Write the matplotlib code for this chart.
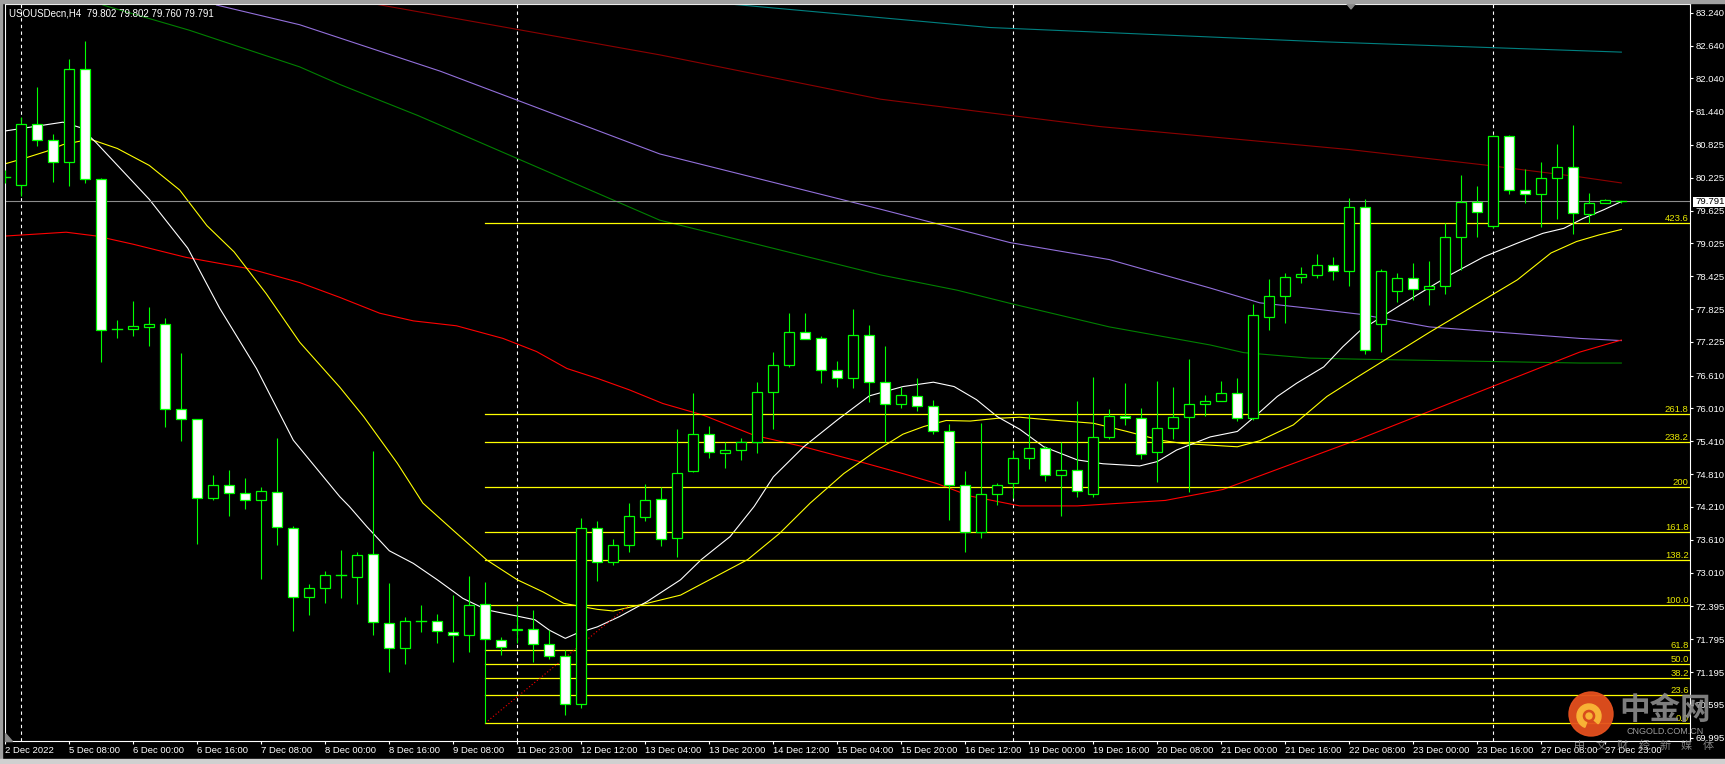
import matplotlib
matplotlib.use('Agg')
import matplotlib.pyplot as plt
from matplotlib.patches import Rectangle, Circle, Wedge, Polygon

plt.rcParams['font.family'] = ['Liberation Sans', 'DejaVu Sans']

W, H = 1725, 764

# H4 bars, oldest first
opens = [80.22, 80.09, 81.20, 80.91, 80.51, 82.22, 80.20, 77.45, 77.47, 77.49,
         77.56, 76.00, 75.82, 74.38, 74.61, 74.46, 74.33, 74.48, 73.82, 72.56,
         72.73, 72.96, 72.94, 73.35, 72.09, 71.63, 72.12, 72.12, 71.92, 71.87,
         72.43, 71.78, 71.96, 71.99, 71.70, 71.49, 70.62, 73.82, 73.20, 73.51,
         74.03, 74.35, 73.64, 74.86, 75.54, 75.19, 75.25, 75.39, 76.31, 76.80,
         77.41, 77.29, 76.71, 76.56, 77.35, 76.49, 76.10, 76.23, 76.05, 75.59,
         74.61, 73.75, 74.44, 74.64, 75.10, 75.28, 74.79, 74.88, 74.45, 75.48,
         75.87, 75.83, 75.21, 75.65, 75.85, 76.09, 76.14, 76.29, 75.83, 77.69,
         78.06, 78.41, 78.44, 78.64, 78.52, 79.69, 77.55, 78.15, 78.40, 78.20,
         78.25, 79.14, 79.78, 79.35, 80.98, 80.00, 79.92, 80.22, 80.42, 79.56,
         79.76, 79.802]
highs = [80.36, 81.34, 81.88, 81.02, 82.39, 82.73, 80.22, 77.62, 77.98, 77.87,
         77.66, 77.03, 75.82, 74.79, 74.89, 74.74, 74.57, 75.47, 73.86, 72.81,
         73.04, 73.43, 73.39, 75.23, 72.82, 72.20, 72.42, 72.26, 72.60, 72.95,
         72.84, 71.84, 72.42, 72.33, 71.96, 71.60, 74.00, 73.95, 73.62, 74.28,
         74.63, 74.57, 75.63, 76.29, 75.69, 75.39, 75.47, 76.49, 77.04, 77.75,
         77.75, 77.33, 76.87, 77.83, 77.54, 77.15, 76.40, 76.57, 76.17, 75.73,
         74.87, 75.74, 74.65, 75.25, 75.90, 75.32, 75.40, 76.15, 76.58, 76.00,
         76.47, 76.02, 76.51, 76.40, 76.91, 76.26, 76.51, 76.56, 77.92, 78.38,
         78.49, 78.59, 78.83, 78.77, 79.85, 79.83, 78.55, 78.49, 78.67, 78.70,
         79.40, 80.27, 80.07, 81.00, 81.01, 80.39, 80.51, 80.84, 81.19, 79.94,
         79.83, 79.802]
lows = [80.12, 79.90, 80.81, 80.15, 80.07, 80.13, 76.85, 77.29, 77.34, 77.15,
        75.68, 75.41, 73.54, 74.33, 74.05, 74.18, 72.90, 73.52, 71.95, 72.24,
        72.46, 72.54, 72.43, 71.88, 71.20, 71.35, 71.93, 71.73, 71.37, 71.57,
        70.26, 71.51, 71.72, 71.37, 71.44, 70.41, 70.53, 72.85, 73.15, 73.39,
        73.96, 73.50, 73.29, 74.85, 75.11, 74.93, 75.06, 75.20, 75.63, 76.77,
        77.27, 76.48, 76.41, 76.39, 76.12, 75.39, 76.01, 75.97, 75.55, 73.98,
        73.39, 73.65, 74.25, 74.37, 74.90, 74.69, 74.05, 74.40, 74.40, 75.45,
        75.71, 75.09, 74.67, 75.45, 74.48, 75.88, 76.14, 75.79, 75.80, 77.45,
        77.58, 78.31, 78.40, 78.36, 78.25, 77.00, 77.05, 77.95, 78.00, 77.90,
        78.10, 78.54, 79.15, 79.30, 79.93, 79.77, 79.33, 79.48, 79.19, 79.39,
        79.76, 79.760]
closes = [80.24, 81.20, 80.91, 80.51, 82.22, 80.20, 77.45, 77.46, 77.51, 77.56,
          76.00, 75.82, 74.37, 74.61, 74.46, 74.33, 74.50, 73.85, 72.57, 72.73,
          72.97, 72.97, 73.33, 72.10, 71.63, 72.12, 72.12, 71.94, 71.87, 72.42,
          71.79, 71.65, 71.99, 71.70, 71.48, 70.62, 73.82, 73.20, 73.51, 74.04,
          74.33, 73.62, 74.84, 75.54, 75.21, 75.25, 75.39, 76.31, 76.80, 77.40,
          77.27, 76.71, 76.56, 77.35, 76.49, 76.10, 76.25, 76.05, 75.59, 74.61,
          73.75, 74.44, 74.61, 75.10, 75.28, 74.79, 74.88, 74.50, 75.48, 75.87,
          75.83, 75.18, 75.65, 75.85, 76.09, 76.14, 76.29, 75.83, 77.71, 78.06,
          78.41, 78.46, 78.63, 78.53, 79.69, 77.08, 78.52, 78.40, 78.20, 78.25,
          79.14, 79.78, 79.59, 80.98, 80.00, 79.92, 80.22, 80.42, 79.58, 79.76,
          79.82, 79.791]

time_labels = ['2 Dec 2022', '5 Dec 08:00', '6 Dec 00:00', '6 Dec 16:00', '7 Dec 08:00',
               '8 Dec 00:00', '8 Dec 16:00', '9 Dec 08:00', '11 Dec 23:00', '12 Dec 12:00',
               '13 Dec 04:00', '13 Dec 20:00', '14 Dec 12:00', '15 Dec 04:00', '15 Dec 20:00',
               '16 Dec 12:00', '19 Dec 00:00', '19 Dec 16:00', '20 Dec 08:00', '21 Dec 00:00',
               '21 Dec 16:00', '22 Dec 08:00', '23 Dec 00:00', '23 Dec 16:00', '27 Dec 08:00',
               '27 Dec 23:00']
price_ticks = [83.240, 82.640, 82.040, 81.440, 80.825, 80.225, 79.625, 79.025, 78.425,
               77.825, 77.225, 76.610, 76.010, 75.410, 74.810, 74.210, 73.610, 73.010,
               72.395, 71.795, 71.195, 70.595, 69.995]
week_separators = [1, 32, 63, 93]

fib_levels = [0.0, 23.6, 38.2, 50.0, 61.8, 100.0, 138.2, 161.8, 200.0, 238.2, 261.8, 423.6]
fib_names = ['0.0', '23.6', '38.2', '50.0', '61.8', '100.0', '138.2', '161.8', '200', '238.2', '261.8', '423.6']
fib_low, fib_high = 70.265, 72.42
fib_bar0, fib_bar1 = 30, 39

last_price = 79.791

# moving averages read at bar positions
ma_white_x = [0, 3.6, 4.7, 5.7, 9.0, 11.4, 13.4, 15.7, 18.0, 20.9, 21.5, 22.6, 24.0, 25.5,
              27.0, 28.6, 30.1, 33.1, 34.0, 35.0, 35.7, 37.0, 38.4, 40.1, 42.2, 43.5, 45.3,
              46.8, 48.0, 49.9, 52.0, 54.0, 56.1, 58.0, 59.3, 60.7, 62.0, 63.4, 64.9, 67.0,
              68.6, 70.9, 72.0, 73.2, 75.3, 77.0, 78.2, 79.5, 80.7, 82.4, 83.6, 84.7, 87.2,
              90.3, 92.4, 94.5, 96.1, 97.4, 98.6, 99.9, 101.0]
ma_white_y = [81.08, 81.24, 81.14, 80.86, 79.83, 78.94, 77.84, 76.74, 75.43, 74.40, 74.22,
              73.85, 73.41, 73.18, 72.88, 72.54, 72.33, 72.15, 71.96, 71.81, 71.90, 72.02,
              72.21, 72.48, 72.88, 73.25, 73.67, 74.22, 74.76, 75.31, 75.80, 76.24, 76.41,
              76.49, 76.41, 76.17, 75.86, 75.63, 75.31, 75.07, 75.00, 74.96, 75.04, 75.25,
              75.49, 75.59, 75.89, 76.23, 76.47, 76.77, 77.14, 77.44, 77.90, 78.45, 78.78,
              79.03, 79.21, 79.30, 79.48, 79.64, 79.79]
ma_yellow_x = [0, 1.3, 2.6, 3.6, 5.3, 7.0, 9.0, 10.9, 12.6, 14.3, 16.3, 18.4, 20.9, 22.4,
               24.5, 26.1, 28.2, 30.1, 32.0, 33.6, 34.9, 37.0, 38.0, 40.1, 42.2, 46.4, 48.4,
               50.3, 52.4, 54.5, 56.1, 57.4, 58.8, 60.3, 62.0, 63.4, 64.9, 68.0, 70.1, 72.2,
               73.6, 75.3, 77.0, 78.4, 80.5, 82.6, 84.7, 89.0, 94.5, 96.6, 98.2, 99.6, 101.0]
ma_yellow_y = [80.48, 80.59, 80.71, 80.83, 80.93, 80.76, 80.45, 80.00, 79.35, 78.87, 78.11,
               77.22, 76.40, 75.86, 75.01, 74.28, 73.73, 73.24, 72.88, 72.66, 72.45, 72.34,
               72.31, 72.45, 72.60, 73.25, 73.73, 74.28, 74.82, 75.25, 75.54, 75.68, 75.79,
               75.78, 75.83, 75.85, 75.81, 75.74, 75.59, 75.43, 75.37, 75.34, 75.31, 75.42,
               75.71, 76.23, 76.62, 77.40, 78.36, 78.85, 79.06, 79.18, 79.28]
ma_red_x = [0, 3.8, 5.7, 8.0, 11.3, 15.3, 18.4, 20.9, 23.4, 25.5, 28.2, 31.1, 33.2, 35.1,
            37.0, 39.0, 41.1, 43.6, 46.8, 49.9, 53.0, 56.1, 58.2, 60.3, 63.4, 67.0, 72.5,
            76.1, 84.7, 98.4, 101.0]
ma_red_y = [79.16, 79.23, 79.16, 79.01, 78.77, 78.56, 78.31, 78.04, 77.75, 77.61, 77.52,
            77.29, 77.05, 76.74, 76.56, 76.35, 76.10, 75.89, 75.52, 75.31, 75.07, 74.82,
            74.64, 74.41, 74.23, 74.23, 74.33, 74.53, 75.46, 77.04, 77.26]
ma_purple_x = [13.2, 18.4, 27.2, 40.9, 54.7, 62.8, 69.0, 75.3, 78.4, 81.5, 84.7, 89.0, 98.4, 101.0]
ma_purple_y = [83.38, 83.02, 82.17, 80.66, 79.65, 79.04, 78.73, 78.21, 77.94, 77.84, 77.73,
               77.50, 77.29, 77.25]
ma_green_x = [6.1, 11.5, 18.4, 20.9, 25.8, 40.9, 54.7, 59.5, 62.8, 69.0, 75.3, 77.4, 81.5,
              84.7, 98.4, 101.0]
ma_green_y = [83.38, 82.92, 82.25, 81.93, 81.36, 79.45, 78.45, 78.17, 77.93, 77.50, 77.17,
              77.03, 76.93, 76.91, 76.84, 76.84]
ma_maroon_x = [22.7, 40.9, 54.7, 68.4, 84.0, 92.4, 98.4, 101.0]
ma_maroon_y = [83.42, 82.47, 81.66, 81.16, 80.74, 80.46, 80.24, 80.13]
ma_teal_x = [43.7, 61.5, 82.2, 101.0]
ma_teal_y = [83.44, 82.97, 82.71, 82.52]

fig = plt.figure(figsize=(W / 100, H / 100), dpi=100, facecolor='black')
ax = fig.add_axes([4.5 / W, 1 - 741 / H, (1690 - 4.5) / W, (741 - 4) / H], facecolor='black')
ax.set_xlim(-0.05, 105.29)
ax.set_ylim(69.935, 83.399)

# week separators
for k in week_separators:
    ax.axvline(k, color='white', lw=0.8, ls=(0, (3, 3)), zorder=1)

# moving averages
ax.plot(ma_teal_x, ma_teal_y, color='#008080', lw=0.8, zorder=2)
ax.plot(ma_maroon_x, ma_maroon_y, color='#8b0000', lw=0.8, zorder=2)
ax.plot(ma_green_x, ma_green_y, color='#008000', lw=0.8, zorder=2)
ax.plot(ma_purple_x, ma_purple_y, color='#9370db', lw=0.8, zorder=2)
ax.plot(ma_red_x, ma_red_y, color='#ff0000', lw=0.8, zorder=2)
ax.plot(ma_yellow_x, ma_yellow_y, color='#ffff00', lw=0.8, zorder=2)
ax.plot(ma_white_x, ma_white_y, color='white', lw=0.8, zorder=2)

# fibonacci
xmax = ax.get_xlim()[1]
for lvl, name in zip(fib_levels, fib_names):
    p = fib_low + lvl / 100 * (fib_high - fib_low)
    ax.plot([fib_bar0, xmax], [p, p], color='#ffff00', lw=0.9, zorder=2)
    ax.text(xmax - 0.08, p, name, color='#e8e800', fontsize=6.8, ha='right', va='bottom', zorder=7)
ax.plot([fib_bar0, fib_bar1], [fib_low, fib_high], color='red', lw=0.8, ls=(0, (1, 2)), zorder=2)

ax.axhline(last_price, color='#8c8c8c', lw=0.8, zorder=2)

# candles
for i in range(len(opens)):
    o, h, l, c = opens[i], highs[i], lows[i], closes[i]
    ax.plot([i, i], [l, h], color='#00ff00', lw=0.8, zorder=5, solid_capstyle='butt')
    lo, hi = min(o, c), max(o, c)
    if hi - lo < 0.02:
        ax.plot([i - 0.31, i + 0.31], [c, c], color='#00ff00', lw=1.0, zorder=6)
    else:
        ax.add_patch(Rectangle((i - 0.31, lo), 0.62, hi - lo,
                               facecolor='white' if c < o else 'black',
                               edgecolor='#00ff00', lw=0.9, zorder=6))

ax.set_xticks(range(0, 4 * len(time_labels), 4))
ax.set_xticklabels(time_labels, ha='left')
ax.yaxis.tick_right()
ax.set_yticks(price_ticks)
ax.set_yticklabels(['%.3f' % v for v in price_ticks])
ax.tick_params(colors='white', labelsize=6.8, width=0.8)
ax.tick_params(axis='x', length=2.2, pad=1.2)
ax.tick_params(axis='y', length=2.2, pad=1.5)
for s in ax.spines.values():
    s.set_color('white')
    s.set_linewidth(0.8)

# overlay in pixel units
ov = fig.add_axes([0, 0, 1, 1], facecolor='none')
ov.set_xlim(0, W)
ov.set_ylim(H, 0)
ov.axis('off')

ov.text(9, 13, 'USOUSDecn,H4  79.802 79.802 79.760 79.791', color='white', fontsize=7, va='center')
ov.add_patch(Rectangle((1692.5, 196.5), 33, 10, facecolor='white', edgecolor='none'))
ov.text(1695, 201.5, '%.3f' % last_price, color='black', fontsize=6.8, va='center')

ov.add_patch(Polygon([(1347, 4), (1355, 4), (1351, 9)], color='#8a8a8a'))
ov.add_patch(Polygon([(5, 733), (5, 741), (12, 741)], color='#8a8a8a'))
ov.add_patch(Rectangle((0, 0), W, 2.5, color='#a0a0a0'))
ov.add_patch(Rectangle((0, 0), 2, H, color='#a0a0a0'))
ov.add_patch(Rectangle((0, 759), W, 5, color='#d0d0d0'))

# watermark
ov.add_patch(Circle((1591, 714), 22, color='#e5501e', alpha=0.95))
ov.add_patch(Wedge((1589, 716), 12, 110, 400, width=5, color='#f8b235'))
ov.add_patch(Circle((1589, 716), 3, color='#f8b235'))
ov.text(1665, 710, '中金网', fontsize=22, color='#8c8c8c', alpha=0.9, ha='center', va='center',
        family=['Noto Sans CJK SC'], weight='bold')
ov.text(1665, 732, 'CNGOLD.COM.CN', fontsize=6.5, color='#9a9a9a', ha='center', va='center')
for j, ch in enumerate('中文财经新媒体'):
    ov.text(1580 + j * 21.3, 746, ch, fontsize=8, color='#8c8c8c', alpha=0.9, ha='center',
            va='center', family=['Noto Sans CJK SC'])

fig.savefig('out.png', dpi=100, facecolor='black')
